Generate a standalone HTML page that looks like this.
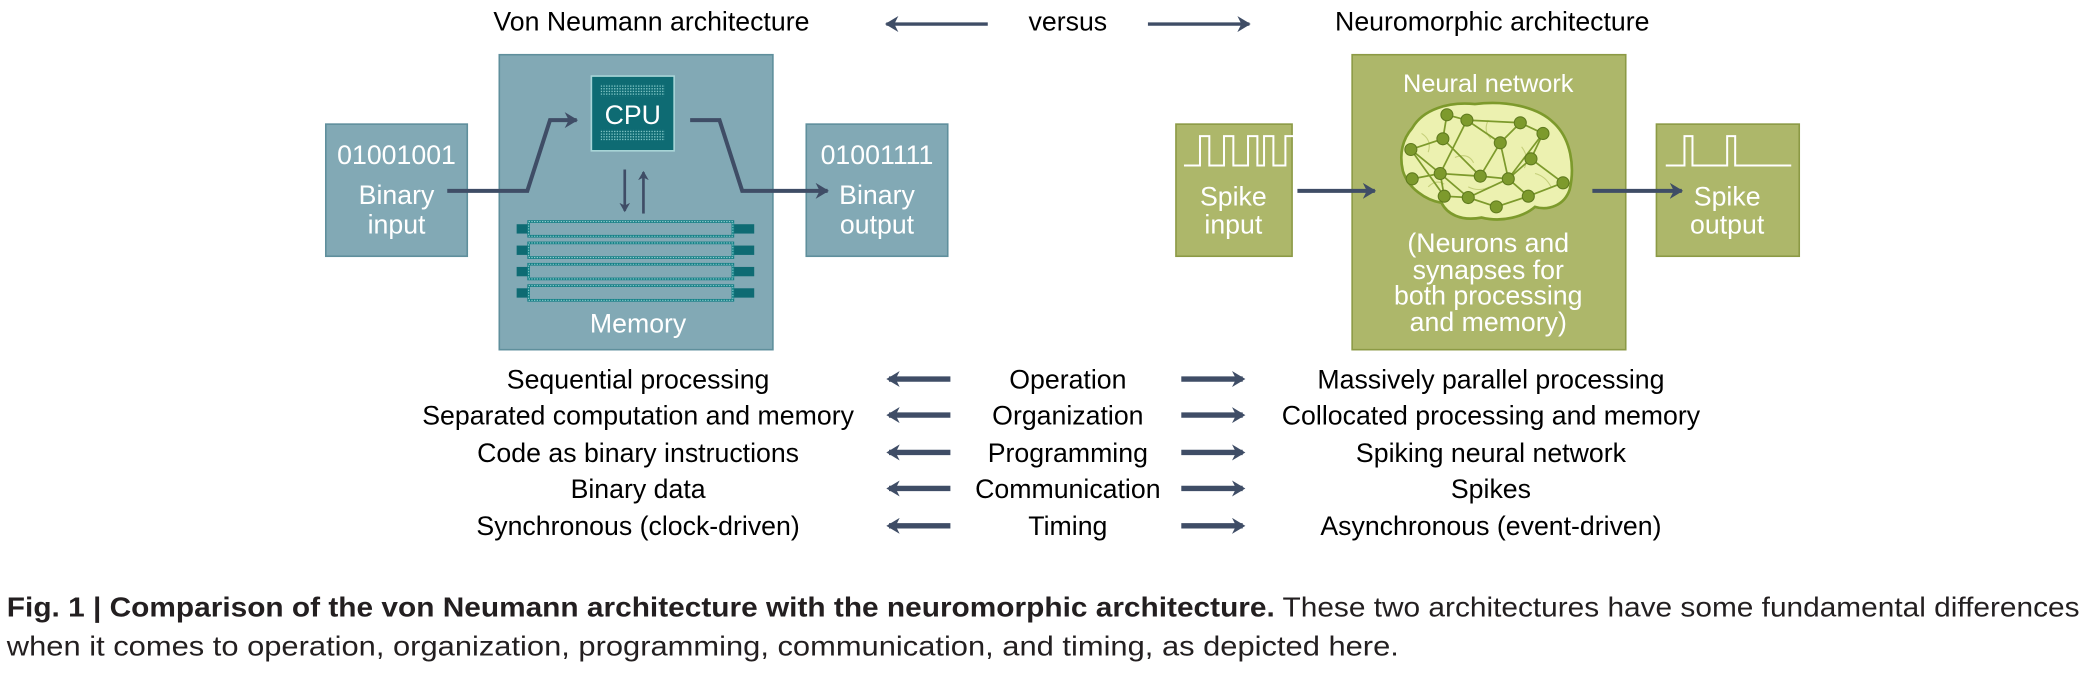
<!DOCTYPE html>
<html><head><meta charset="utf-8"><style>
html,body{margin:0;padding:0;background:#fff;}
svg{display:block;}
text{font-family:"Liberation Sans",sans-serif;}
</style></head><body>
<svg width="2093" height="678" viewBox="0 0 1568 508" xmlns="http://www.w3.org/2000/svg">
<defs>
<marker id="ah" markerWidth="12" markerHeight="12" refX="8" refY="6" orient="auto" markerUnits="userSpaceOnUse"><path d="M0,0 L10,6 L0,12 L3,6 Z" fill="#3f4d66"/></marker>
<marker id="ah2" markerWidth="12" markerHeight="12" refX="9" refY="6" orient="auto" markerUnits="userSpaceOnUse"><path d="M0,0 L10,6 L0,12 L3,6 Z" fill="#3f4d66"/></marker>
<marker id="ahs" markerWidth="8" markerHeight="8" refX="6" refY="4" orient="auto" markerUnits="userSpaceOnUse"><path d="M0,0 L7,4 L0,8 L2,4 Z" fill="#3f4d66"/></marker>
<pattern id="dots" width="2" height="2" patternUnits="userSpaceOnUse"><rect width="1" height="1" fill="#7fc4c4"/></pattern>
</defs>
<text x="488" y="23" font-size="20" text-anchor="middle" fill="#000">Von Neumann architecture</text>
<text x="1118" y="23" font-size="20" text-anchor="middle" fill="#000">Neuromorphic architecture</text>
<text x="800" y="23" font-size="20" text-anchor="middle" fill="#000">versus</text>
<line x1="740" y1="18" x2="664" y2="18" stroke="#3f4d66" stroke-width="2.5" marker-end="url(#ah2)"/>
<line x1="860" y1="18" x2="936" y2="18" stroke="#3f4d66" stroke-width="2.5" marker-end="url(#ah2)"/>

<rect x="374" y="41" width="205" height="221" fill="#82a9b5" stroke="#5f8f9c" stroke-width="1.2"/>
<rect x="244" y="93" width="106" height="99" fill="#82a9b5" stroke="#5f8f9c" stroke-width="1.2"/>
<rect x="604" y="93" width="106" height="99" fill="#82a9b5" stroke="#5f8f9c" stroke-width="1.2"/>
<text x="297" y="123" font-size="20" text-anchor="middle" fill="#fff">01001001</text>
<text x="297" y="153" font-size="20" text-anchor="middle" fill="#fff">Binary</text>
<text x="297" y="175" font-size="20" text-anchor="middle" fill="#fff">input</text>
<text x="657" y="123" font-size="20" text-anchor="middle" fill="#fff">01001111</text>
<text x="657" y="153" font-size="20" text-anchor="middle" fill="#fff">Binary</text>
<text x="657" y="175" font-size="20" text-anchor="middle" fill="#fff">output</text>
<rect x="443" y="57" width="62" height="56" fill="#0e6b73" stroke="#a8d5d8" stroke-width="1.2"/>
<rect x="450" y="63" width="48" height="9" fill="url(#dots)"/>
<rect x="450" y="97" width="48" height="9" fill="url(#dots)"/>
<text x="474" y="93" font-size="20" text-anchor="middle" fill="#fff">CPU</text>
<line x1="468" y1="127" x2="468" y2="158" stroke="#3f4d66" stroke-width="2" marker-end="url(#ahs)"/>
<line x1="482" y1="160" x2="482" y2="129" stroke="#3f4d66" stroke-width="2" marker-end="url(#ahs)"/>
<g fill="#0e6b73">
<rect x="387" y="168" width="178" height="7"/><rect x="387" y="184" width="178" height="7"/><rect x="387" y="200" width="178" height="7"/><rect x="387" y="216" width="178" height="7"/>
</g>
<g fill="#82a9b5" stroke="#157f86" stroke-width="2">
<rect x="396" y="166" width="153" height="11"/><rect x="396" y="182" width="153" height="11"/><rect x="396" y="198" width="153" height="11"/><rect x="396" y="214" width="153" height="11"/>
</g>
<g fill="none" stroke="#8fd0d0" stroke-width="0.8" stroke-dasharray="1 1">
<rect x="396" y="166" width="153" height="11"/><rect x="396" y="182" width="153" height="11"/><rect x="396" y="198" width="153" height="11"/><rect x="396" y="214" width="153" height="11"/>
</g>
<text x="478" y="249" font-size="20" text-anchor="middle" fill="#fff">Memory</text>
<polyline points="335,143 395,143 412,90 432,90" fill="none" stroke="#3f4d66" stroke-width="3" marker-end="url(#ah2)"/>
<polyline points="517,90 539,90 556,143 620,143" fill="none" stroke="#3f4d66" stroke-width="3" marker-end="url(#ah2)"/>

<rect x="1013" y="41" width="205" height="221" fill="#adb76a" stroke="#8c9a45" stroke-width="1.2"/>
<rect x="881" y="93" width="87" height="99" fill="#adb76a" stroke="#8c9a45" stroke-width="1.2"/>
<rect x="1241" y="93" width="107" height="99" fill="#adb76a" stroke="#8c9a45" stroke-width="1.2"/>
<polyline points="887,124 899,124 899,102 906,102 906,124 917,124 917,102 924,102 924,124 935,124 935,102 942,102 942,124 947,124 947,102 954,102 954,124 963,124 963,102 970,102 970,124 982,124" fill="none" stroke="#fff" stroke-width="1.5"/>
<polyline points="1248,124 1262,124 1262,102 1268,102 1268,124 1294,124 1294,102 1300,102 1300,124 1342,124" fill="none" stroke="#fff" stroke-width="1.5"/>
<text x="924" y="154" font-size="20" text-anchor="middle" fill="#fff">Spike</text>
<text x="924" y="175" font-size="20" text-anchor="middle" fill="#fff">input</text>
<text x="1294" y="154" font-size="20" text-anchor="middle" fill="#fff">Spike</text>
<text x="1294" y="175" font-size="20" text-anchor="middle" fill="#fff">output</text>
<text x="1115" y="69" font-size="19" text-anchor="middle" fill="#fff">Neural network</text>
<text x="1115" y="189" font-size="20" text-anchor="middle" fill="#fff">(Neurons and</text>
<text x="1115" y="209" font-size="20" text-anchor="middle" fill="#fff">synapses for</text>
<text x="1115" y="228" font-size="20" text-anchor="middle" fill="#fff">both processing</text>
<text x="1115" y="248" font-size="20" text-anchor="middle" fill="#fff">and memory)</text>
<path d="M1058,96 C1066,82 1085,76 1105,78 C1128,75 1152,80 1164,92 C1177,104 1180,125 1176,142 C1172,154 1160,158 1150,155 C1142,162 1126,167 1110,163 C1094,166 1084,160 1080,152 C1068,150 1055,141 1051,128 C1048,115 1051,104 1058,96 Z" fill="#ecf1b0" stroke="#7d9a2c" stroke-width="2"/>
<g stroke="#c5cf7a" stroke-width="0.8" fill="none">
<path d="M1065,100 q8,5 5,14 M1090,118 q10,-4 14,4 M1140,110 q6,8 2,16 M1100,140 q8,4 16,0 M1150,130 q8,2 12,10 M1070,140 q6,-6 12,-2 M1115,90 q-4,8 2,14"/>
</g>
<g stroke="#7d9a2c" stroke-width="1.3" fill="none">
<polyline points="1084,86 1081,104 1057,112 1079,130 1058,134"/>
<polyline points="1099,90 1139,92 1156,100 1147,119 1171,137"/>
<polyline points="1084,86 1099,90 1124,107 1109,132 1079,130 1082,147 1100,148 1121,155 1145,147 1171,137"/>
<polyline points="1057,112 1082,147"/>
<polyline points="1139,92 1124,107 1130,134 1145,147"/>
<polyline points="1081,104 1109,132 1130,134 1147,119"/>
<polyline points="1099,90 1079,130 1100,148 1130,134"/>
<polyline points="1156,100 1130,134"/>
</g>
<g fill="#7d9a2c" stroke="#5f7a1e" stroke-width="0.8">
<circle cx="1084" cy="86" r="4.5"/><circle cx="1099" cy="90" r="4.5"/><circle cx="1139" cy="92" r="4.5"/><circle cx="1156" cy="100" r="4.5"/><circle cx="1081" cy="104" r="4.5"/><circle cx="1124" cy="107" r="4.5"/><circle cx="1057" cy="112" r="4.5"/><circle cx="1147" cy="119" r="4.5"/><circle cx="1079" cy="130" r="4.5"/><circle cx="1109" cy="132" r="4.5"/><circle cx="1130" cy="134" r="4.5"/><circle cx="1058" cy="134" r="4.5"/><circle cx="1171" cy="137" r="4.5"/><circle cx="1082" cy="147" r="4.5"/><circle cx="1100" cy="148" r="4.5"/><circle cx="1145" cy="147" r="4.5"/><circle cx="1121" cy="155" r="4.5"/>
</g>
<line x1="972" y1="143" x2="1030" y2="143" stroke="#3f4d66" stroke-width="3" marker-end="url(#ah2)"/>
<line x1="1193" y1="143" x2="1260" y2="143" stroke="#3f4d66" stroke-width="3" marker-end="url(#ah2)"/>

<g font-size="20" text-anchor="middle" fill="#000">
<text x="478" y="291">Sequential processing</text><text x="800" y="291">Operation</text><text x="1117" y="291">Massively parallel processing</text>
<text x="478" y="318">Separated computation and memory</text><text x="800" y="318">Organization</text><text x="1117" y="318">Collocated processing and memory</text>
<text x="478" y="346">Code as binary instructions</text><text x="800" y="346">Programming</text><text x="1117" y="346">Spiking neural network</text>
<text x="478" y="373">Binary data</text><text x="800" y="373">Communication</text><text x="1117" y="373">Spikes</text>
<text x="478" y="401">Synchronous (clock-driven)</text><text x="800" y="401">Timing</text><text x="1117" y="401">Asynchronous (event-driven)</text>
</g>
<g stroke="#3f4d66" stroke-width="4">
<line x1="712" y1="284" x2="666" y2="284" marker-end="url(#ah)"/><line x1="885" y1="284" x2="931" y2="284" marker-end="url(#ah)"/>
<line x1="712" y1="311" x2="666" y2="311" marker-end="url(#ah)"/><line x1="885" y1="311" x2="931" y2="311" marker-end="url(#ah)"/>
<line x1="712" y1="339" x2="666" y2="339" marker-end="url(#ah)"/><line x1="885" y1="339" x2="931" y2="339" marker-end="url(#ah)"/>
<line x1="712" y1="366" x2="666" y2="366" marker-end="url(#ah)"/><line x1="885" y1="366" x2="931" y2="366" marker-end="url(#ah)"/>
<line x1="712" y1="394" x2="666" y2="394" marker-end="url(#ah)"/><line x1="885" y1="394" x2="931" y2="394" marker-end="url(#ah)"/>
</g>

<text x="5" y="462" font-size="21" fill="#231f20" textLength="1553" lengthAdjust="spacingAndGlyphs"><tspan font-weight="bold">Fig. 1 | Comparison of the von Neumann architecture with the neuromorphic architecture.</tspan> These two architectures have some fundamental differences</text>
<text x="5" y="491" font-size="21" fill="#231f20" textLength="1043" lengthAdjust="spacingAndGlyphs">when it comes to operation, organization, programming, communication, and timing, as depicted here.</text>
</svg>
</body></html>
